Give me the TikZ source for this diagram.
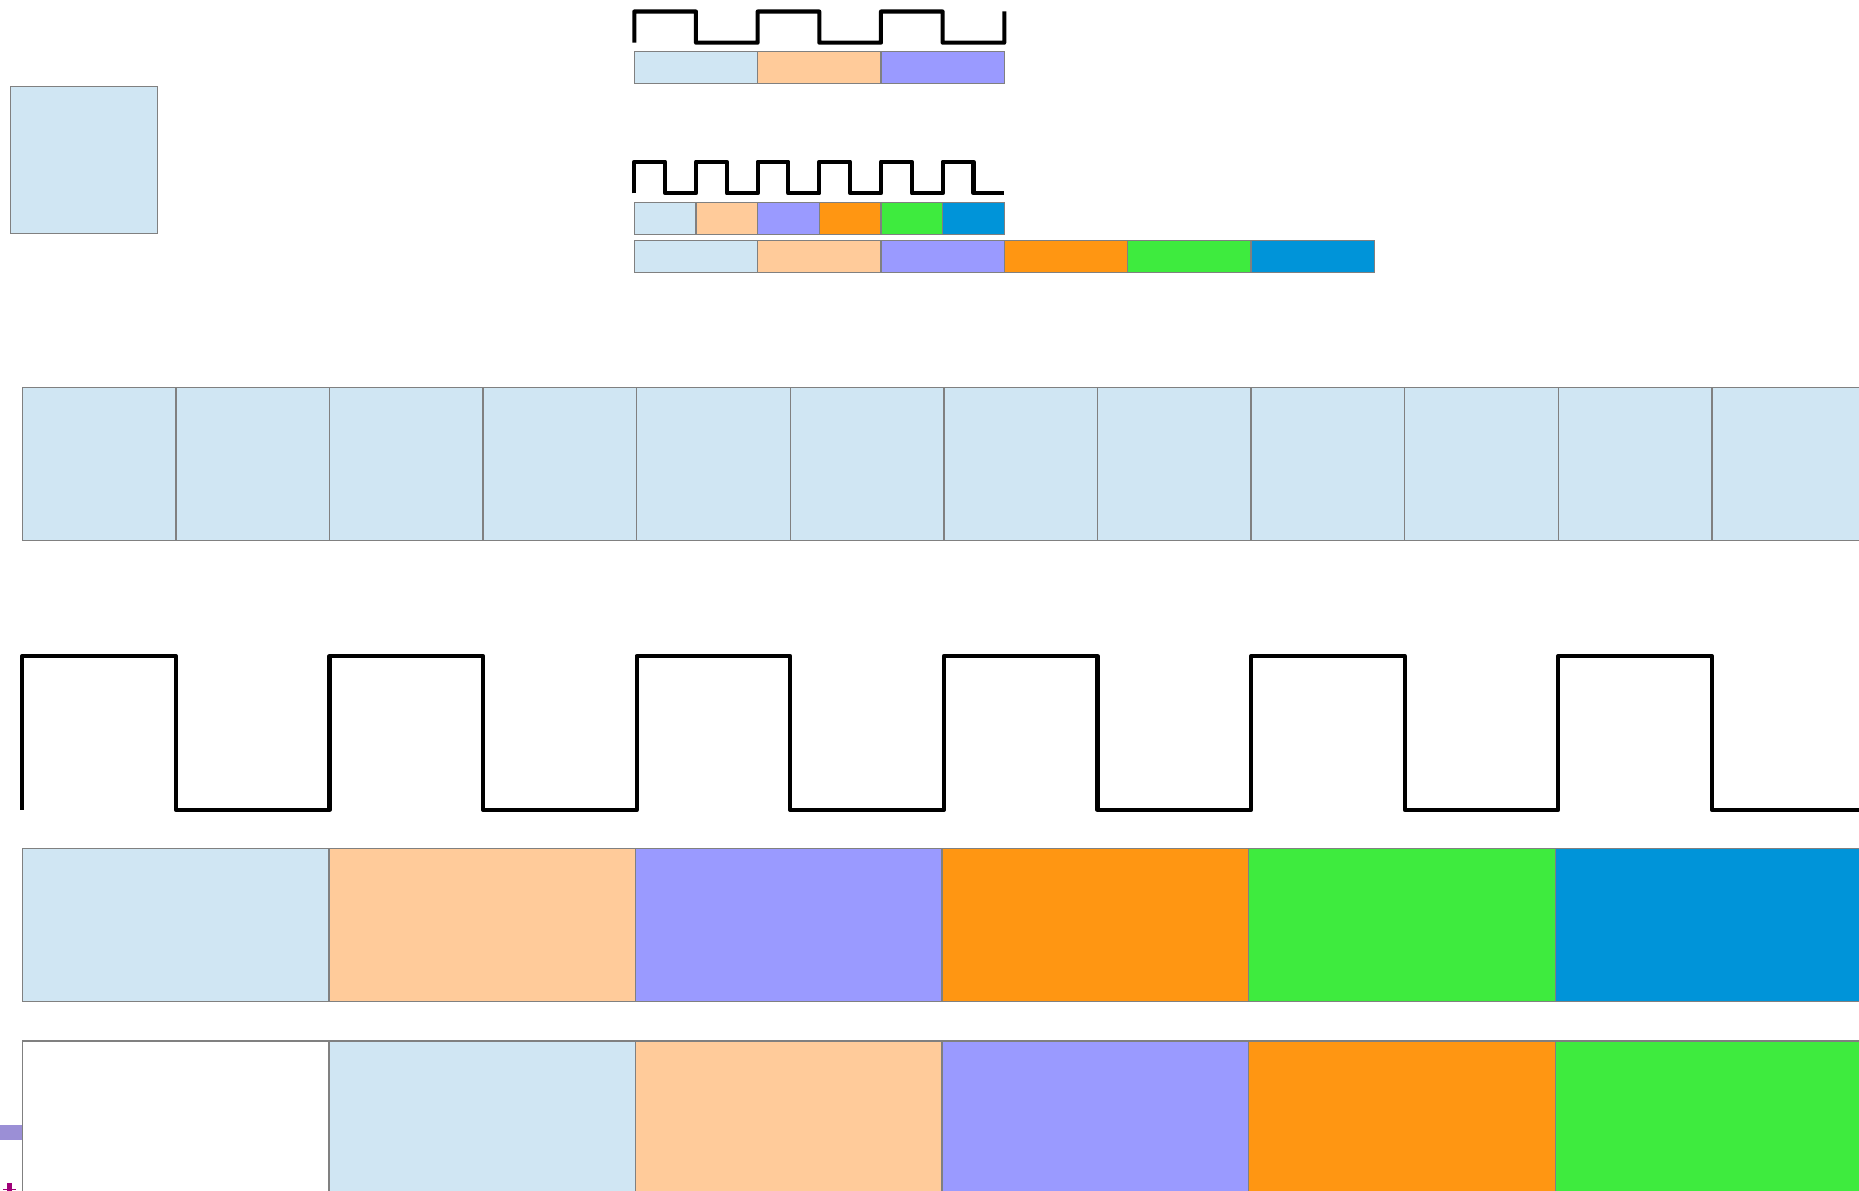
\documentclass[tikz,border=0pt]{standalone}
\usepackage{tikz}
\usetikzlibrary{calc}
\definecolor{bleuclair}{RGB}{208,230,243}
\definecolor{peche}{RGB}{255,203,154}
\definecolor{lavande}{RGB}{154,154,255}
\definecolor{orangevif}{RGB}{255,150,18}
\definecolor{vert}{RGB}{62,235,62}
\definecolor{azur}{RGB}{0,148,217}
\definecolor{gris}{RGB}{128,128,128}
\definecolor{mauve}{RGB}{155,143,214}
\definecolor{framboise}{RGB}{160,0,120}

\begin{document}
\begin{tikzpicture}[x=0.01cm, y=-0.01cm,
		cellule/.style={draw=gris, line width=0.37pt},
		signal/.style={line width=1.15pt, line join=round}]
	\clip (0,0) rectangle (1859,1191);
	
	% petit carre isole
	\filldraw[cellule, fill=bleuclair] (10.5,86.5) rectangle (157.7,233.7);
	
	% horloge lente : 3 periodes, puis 3 trames
	\draw[signal] (634.3,42.7)
	\foreach \k in {0,1,2} {
		-- ({634.3+123.33*\k},11.5) -- ({695.97+123.33*\k},11.5)
		-- ({695.97+123.33*\k},42.7) -- ({757.63+123.33*\k},42.7)
	} -- (1004.3,11.5);
	\foreach \c [count=\k from 0] in {bleuclair,peche,lavande}
		\filldraw[cellule, fill=\c] ({634.3+123.33*\k},51.5) rectangle ++(123.33,31.8);
	
	% horloge rapide : 6 periodes, 6 trames courtes
	\draw[signal] (634.3,193.3)
	\foreach \k in {0,...,5} {
		-- ({634.3+61.67*\k},161.7) -- ({665.13+61.67*\k},161.7)
		-- ({665.13+61.67*\k},193.3) -- ({695.97+61.67*\k},193.3)
	};
	\foreach \c [count=\k from 0] in {bleuclair,peche,lavande,orangevif,vert,azur}
		\filldraw[cellule, fill=\c] ({634.3+61.67*\k},202.7) rectangle ++(61.67,32);
	% memes trames, largeur double
	\foreach \c [count=\k from 0] in {bleuclair,peche,lavande,orangevif,vert,azur}
		\filldraw[cellule, fill=\c] ({634.3+123.33*\k},240.7) rectangle ++(123.33,32);
	
	% rangee de 12 cases
	\foreach \k in {0,...,11}
		\filldraw[cellule, fill=bleuclair] ({22.3+153.6*\k},387.5) rectangle ++(153.6,153.2);
	
	% grande horloge
	\draw[signal] (22.3,810)
	\foreach \k in {0,...,5} {
		-- ({22.3+307.2*\k},656) -- ({175.9+307.2*\k},656)
		-- ({175.9+307.2*\k},810) -- ({329.5+307.2*\k},810)
	};
	
	% trames d'entree
	\foreach \c [count=\k from 0] in {bleuclair,peche,lavande,orangevif,vert,azur}
		\filldraw[cellule, fill=\c] ({22.3+306.6*\k},848.5) rectangle ++(306.6,153.2);
	
	% trames decalees d'une case
	\fill[mauve] (0,1125) rectangle (22.3,1140);
	\foreach \c [count=\k from 0] in {white,bleuclair,peche,lavande,orangevif,vert}
		\filldraw[cellule, fill=\c] ({22.3+306.6*\k},1041) rectangle ++(306.6,153.2);
	
	% repere coupe en bas a gauche
	\draw[framboise, line width=1.25pt] (9.5,1183) -- (9.5,1195);
	\draw[framboise, line width=0.35pt] (3.3,1189.3) -- (16,1189.3);
\end{tikzpicture}
\end{document}
